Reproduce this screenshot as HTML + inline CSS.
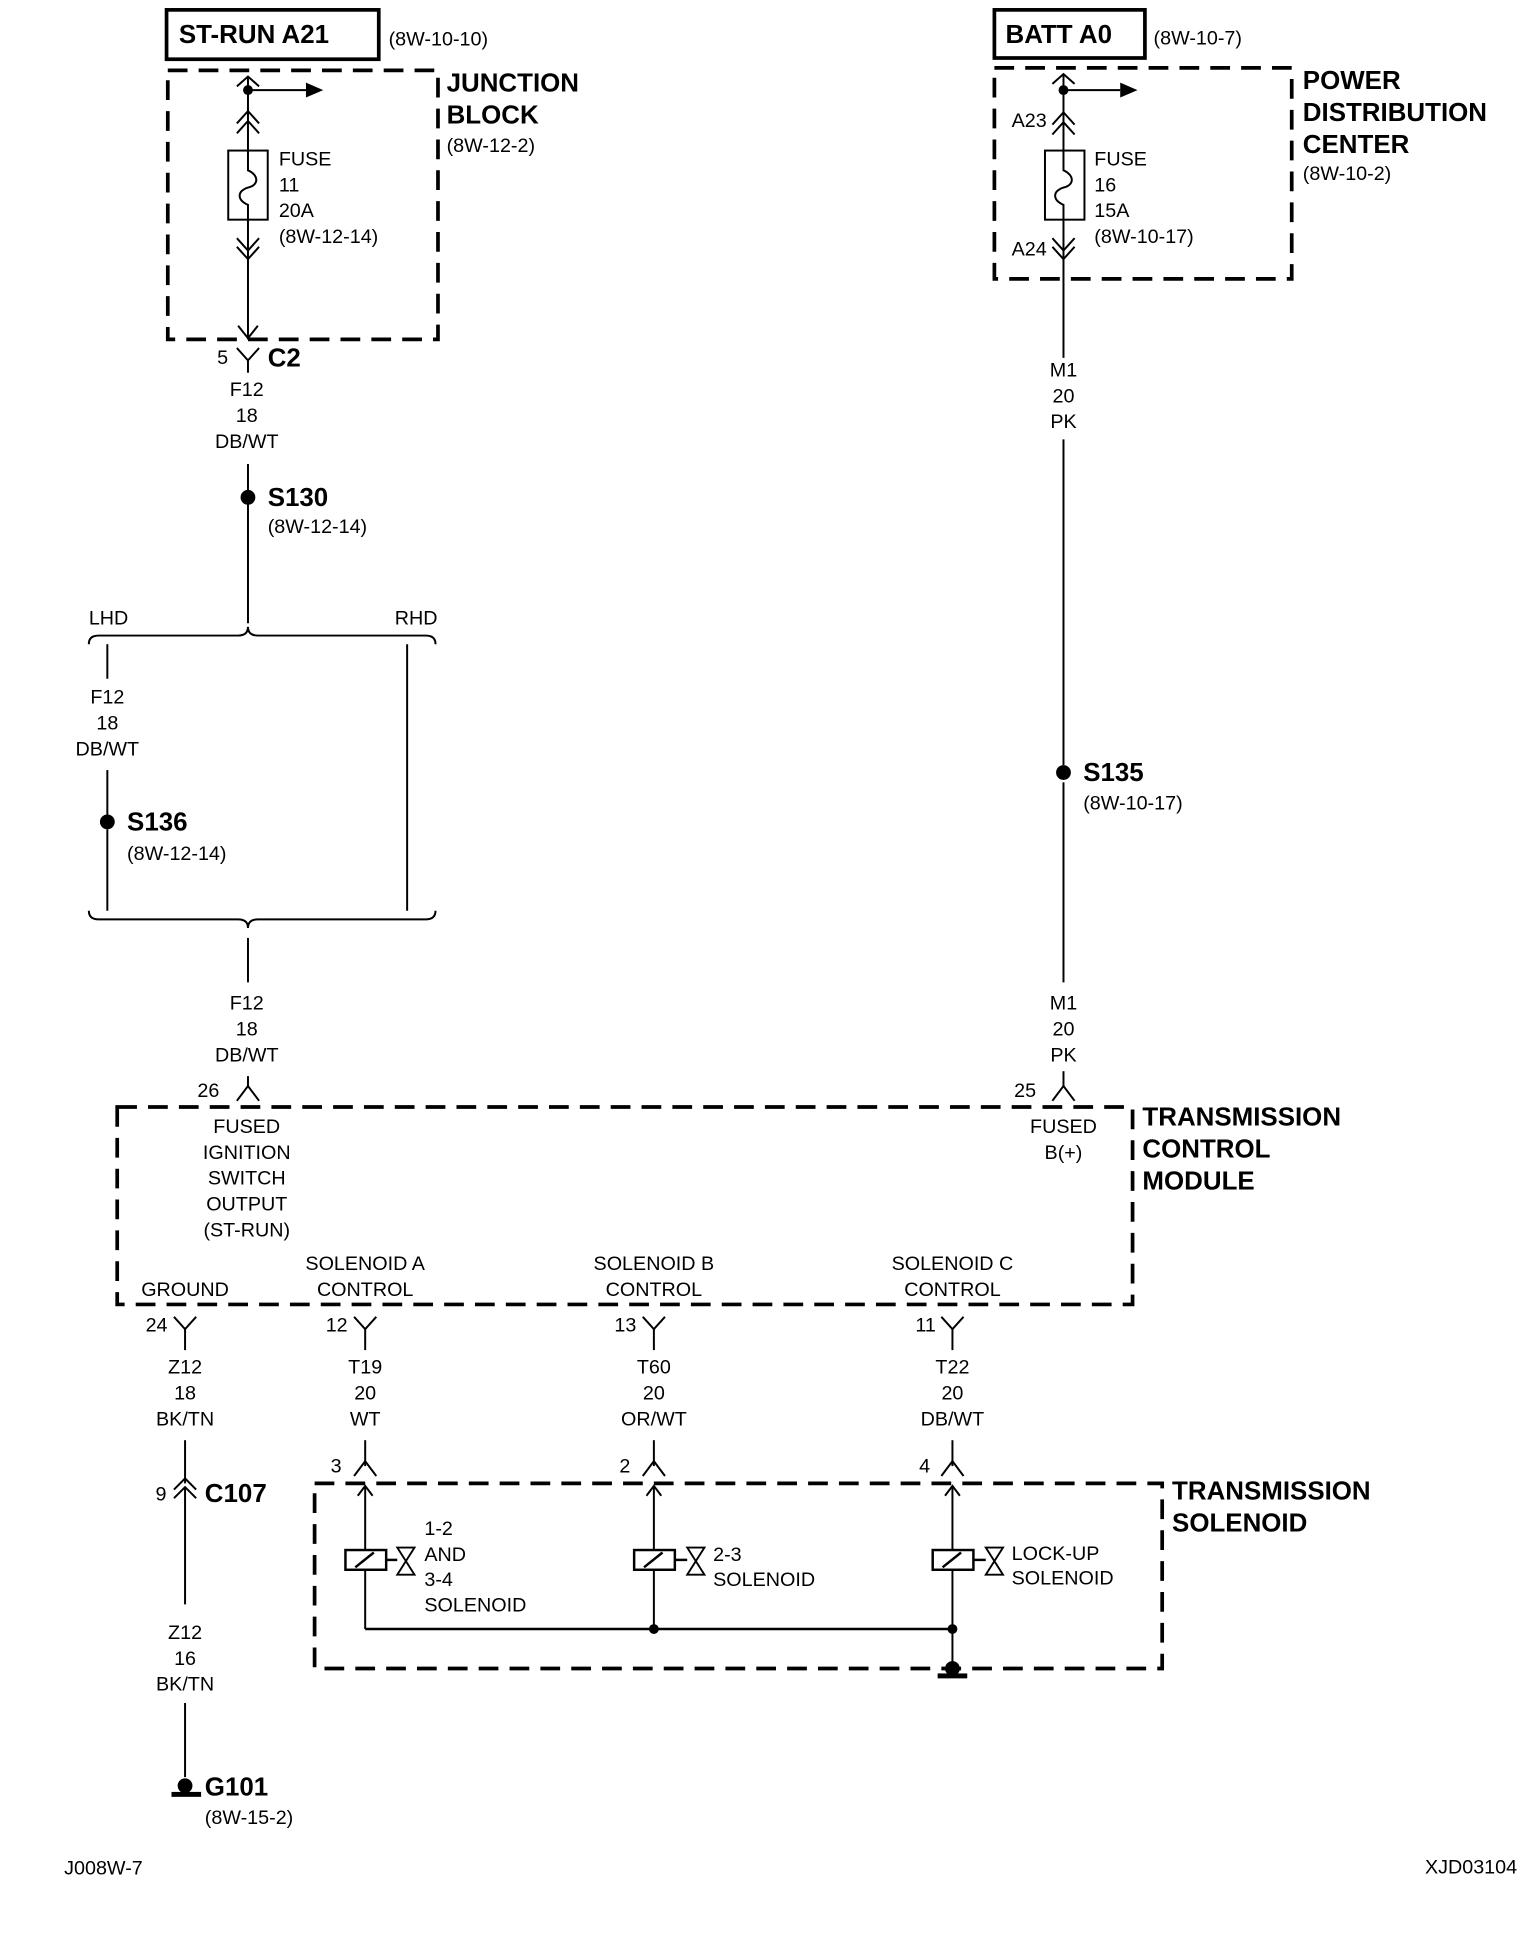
<!DOCTYPE html>
<html><head><style>
html,body{margin:0;padding:0;background:#fff;}
svg{display:block;}
text{font-family:"Liberation Sans Narrow","Liberation Sans",sans-serif;font-size:16px;fill:#000;}
.b{font-weight:bold;font-size:21px;}
.c{text-anchor:middle;}
</style></head><body>
<svg width="1536" height="1940" viewBox="0 0 1245 1572" preserveAspectRatio="none" xmlns="http://www.w3.org/2000/svg">
<g fill="none" stroke="#000" stroke-width="1.6">
<!-- boxes -->
<rect x="135" y="8" width="172" height="40" stroke-width="3"/>
<rect x="806" y="8" width="122" height="39" stroke-width="3"/>
<g stroke-width="3" stroke-dasharray="16,9">
<rect x="136" y="57" width="219" height="218"/>
<rect x="806" y="55" width="241" height="171"/>
<rect x="95" y="897" width="823" height="160"/>
<rect x="255" y="1202" width="687" height="150"/>
</g>
<!-- left fuse -->
<line x1="201" y1="62" x2="201" y2="275"/>
<line x1="201" y1="73" x2="248" y2="73"/>
<polyline points="192,70 201,62 210,70"/>
<polyline points="192,100 201,90 210,100"/><polyline points="192,108 201,98 210,108"/>
<rect x="185" y="122" width="32" height="56" fill="#fff"/>
<path d="M201,122 V138 C210,142 210,150 201,152 C192,155 192,162 201,166 V178"/>
<polyline points="192,193 201,203 210,193"/><polyline points="192,200 201,210 210,200"/>
<polyline points="193,264 201,274 209,264"/>
<!-- C2 -->
<polyline points="192,282 201,292 210,282"/><line x1="201" y1="292" x2="201" y2="302"/>
<line x1="201" y1="376" x2="201" y2="398"/>
<line x1="201" y1="408" x2="201" y2="505"/>
<path d="M72,522 Q72,515 80,515 L193,515 Q201,515 201,508 Q201,515 209,515 L345,515 Q353,515 353,522"/>
<line x1="87" y1="522" x2="87" y2="550"/><line x1="87" y1="624" x2="87" y2="660"/><line x1="87" y1="672" x2="87" y2="738"/>
<line x1="330" y1="522" x2="330" y2="738"/>
<path d="M72,738 Q72,745 80,745 L193,745 Q201,745 201,752 Q201,745 209,745 L345,745 Q353,745 353,738"/>
<line x1="201" y1="760" x2="201" y2="796"/>
<polyline points="192,892 201,880 210,892"/><line x1="201" y1="880" x2="201" y2="872"/>
<!-- right fuse -->
<line x1="862" y1="60" x2="862" y2="290"/>
<line x1="862" y1="73" x2="908" y2="73"/>
<polyline points="853,68 862,60 871,68"/>
<polyline points="853,101 862,91 871,101"/><polyline points="853,109 862,99 871,109"/>
<rect x="847" y="122" width="32" height="56" fill="#fff"/>
<path d="M862,122 V138 C871,142 871,150 862,152 C853,155 853,162 862,166 V178"/>
<polyline points="853,193 862,203 871,193"/><polyline points="853,200 862,210 871,200"/>
<line x1="862" y1="356" x2="862" y2="620"/>
<line x1="862" y1="634" x2="862" y2="796"/>
<line x1="862" y1="868" x2="862" y2="880"/>
<polyline points="853,892 862,880 871,892"/>
<!-- TCM output connectors -->
<g>
<polyline points="141,1067 150,1077 159,1067"/><line x1="150" y1="1077" x2="150" y2="1094"/>
<polyline points="287,1067 296,1077 305,1067"/><line x1="296" y1="1077" x2="296" y2="1094"/>
<polyline points="521,1067 530,1077 539,1067"/><line x1="530" y1="1077" x2="530" y2="1094"/>
<polyline points="763,1067 772,1077 781,1067"/><line x1="772" y1="1077" x2="772" y2="1094"/>
</g>
<line x1="150" y1="1167" x2="150" y2="1202"/>
<polyline points="141,1207 150,1198 159,1207"/><polyline points="141,1214 150,1205 159,1214"/>
<line x1="150" y1="1205" x2="150" y2="1300"/>
<line x1="150" y1="1380" x2="150" y2="1440"/>
<!-- solenoid feeds -->
<g>
<line x1="296" y1="1167" x2="296" y2="1188"/><polyline points="287,1196 296,1184 305,1196"/>
<line x1="530" y1="1167" x2="530" y2="1188"/><polyline points="521,1196 530,1184 539,1196"/>
<line x1="772" y1="1167" x2="772" y2="1188"/><polyline points="763,1196 772,1184 781,1196"/>
<line x1="296" y1="1204" x2="296" y2="1320"/><polyline points="290,1212 296,1204 302,1212"/>
<line x1="530" y1="1204" x2="530" y2="1320"/><polyline points="524,1212 530,1204 536,1212"/>
<line x1="772" y1="1204" x2="772" y2="1355"/><polyline points="766,1212 772,1204 778,1212"/>
<line x1="296" y1="1320" x2="772" y2="1320" stroke-width="2"/>
</g>
<g stroke-width="2">
<rect x="280" y="1256" width="33" height="16" fill="#fff"/><line x1="288" y1="1270" x2="303" y2="1258"/>
<line x1="313" y1="1264" x2="322" y2="1264"/><path d="M322,1254 H336 L322,1276 H336 Z" stroke-width="1.5"/>
<rect x="514" y="1256" width="33" height="16" fill="#fff"/><line x1="522" y1="1270" x2="537" y2="1258"/>
<line x1="547" y1="1264" x2="557" y2="1264"/><path d="M557,1254 H571 L557,1276 H571 Z" stroke-width="1.5"/>
<rect x="756" y="1256" width="33" height="16" fill="#fff"/><line x1="764" y1="1270" x2="779" y2="1258"/>
<line x1="789" y1="1264" x2="799" y2="1264"/><path d="M799,1254 H813 L799,1276 H813 Z" stroke-width="1.5"/>
</g>
</g>
<!-- dots & grounds -->
<g fill="#000">
<circle cx="201" cy="73" r="4"/><polygon points="248,67 262,73 248,79"/>
<circle cx="862" cy="73" r="4"/><polygon points="908,67 922,73 908,79"/>
<circle cx="201" cy="403" r="6"/><circle cx="87" cy="666" r="6"/><circle cx="862" cy="626" r="6"/>
<circle cx="530" cy="1320" r="4"/><circle cx="772" cy="1320" r="4"/>
<circle cx="772" cy="1352" r="6"/><rect x="760" y="1356" width="24" height="4"/>
<circle cx="150" cy="1447" r="6"/><rect x="139" y="1452" width="24" height="4"/>
</g>
<!-- text -->
<text x="145" y="35" class="b">ST-RUN A21</text><text x="315" y="37">(8W-10-10)</text>
<text x="362" y="74" class="b">JUNCTION</text><text x="362" y="100" class="b">BLOCK</text><text x="362" y="123">(8W-12-2)</text>
<text x="226" y="134">FUSE</text><text x="226" y="155">11</text><text x="226" y="176">20A</text><text x="226" y="197">(8W-12-14)</text>
<text x="176" y="295">5</text><text x="217" y="297" class="b">C2</text>
<text x="200" y="321" class="c">F12</text><text x="200" y="342" class="c">18</text><text x="200" y="363" class="c">DB/WT</text>
<text x="217" y="410" class="b">S130</text><text x="217" y="432">(8W-12-14)</text>
<text x="72" y="506">LHD</text><text x="320" y="506">RHD</text>
<text x="87" y="570" class="c">F12</text><text x="87" y="591" class="c">18</text><text x="87" y="612" class="c">DB/WT</text>
<text x="103" y="673" class="b">S136</text><text x="103" y="697">(8W-12-14)</text>
<text x="200" y="818" class="c">F12</text><text x="200" y="839" class="c">18</text><text x="200" y="860" class="c">DB/WT</text>
<text x="160" y="889">26</text>
<text x="815" y="35" class="b">BATT A0</text><text x="935" y="36">(8W-10-7)</text>
<text x="1056" y="72" class="b">POWER</text><text x="1056" y="98" class="b">DISTRIBUTION</text><text x="1056" y="124" class="b">CENTER</text><text x="1056" y="146">(8W-10-2)</text>
<text x="820" y="103">A23</text><text x="820" y="207">A24</text>
<text x="887" y="134">FUSE</text><text x="887" y="155">16</text><text x="887" y="176">15A</text><text x="887" y="197">(8W-10-17)</text>
<text x="862" y="305" class="c">M1</text><text x="862" y="326" class="c">20</text><text x="862" y="347" class="c">PK</text>
<text x="878" y="633" class="b">S135</text><text x="878" y="656">(8W-10-17)</text>
<text x="862" y="818" class="c">M1</text><text x="862" y="839" class="c">20</text><text x="862" y="860" class="c">PK</text>
<text x="822" y="889">25</text>
<text x="926" y="912" class="b">TRANSMISSION</text><text x="926" y="938" class="b">CONTROL</text><text x="926" y="964" class="b">MODULE</text>
<text x="200" y="918" class="c">FUSED</text><text x="200" y="939" class="c">IGNITION</text><text x="200" y="960" class="c">SWITCH</text><text x="200" y="981" class="c">OUTPUT</text><text x="200" y="1002" class="c">(ST-RUN)</text>
<text x="862" y="918" class="c">FUSED</text><text x="862" y="939" class="c">B(+)</text>
<text x="150" y="1050" class="c">GROUND</text>
<text x="296" y="1029" class="c">SOLENOID A</text><text x="296" y="1050" class="c">CONTROL</text>
<text x="530" y="1029" class="c">SOLENOID B</text><text x="530" y="1050" class="c">CONTROL</text>
<text x="772" y="1029" class="c">SOLENOID C</text><text x="772" y="1050" class="c">CONTROL</text>
<text x="118" y="1079">24</text><text x="264" y="1079">12</text><text x="498" y="1079">13</text><text x="742" y="1079">11</text>
<text x="150" y="1113" class="c">Z12</text><text x="150" y="1134" class="c">18</text><text x="150" y="1155" class="c">BK/TN</text>
<text x="296" y="1113" class="c">T19</text><text x="296" y="1134" class="c">20</text><text x="296" y="1155" class="c">WT</text>
<text x="530" y="1113" class="c">T60</text><text x="530" y="1134" class="c">20</text><text x="530" y="1155" class="c">OR/WT</text>
<text x="772" y="1113" class="c">T22</text><text x="772" y="1134" class="c">20</text><text x="772" y="1155" class="c">DB/WT</text>
<text x="268" y="1193">3</text><text x="502" y="1193">2</text><text x="745" y="1193">4</text>
<text x="126" y="1216">9</text><text x="166" y="1217" class="b">C107</text>
<text x="950" y="1215" class="b">TRANSMISSION</text><text x="950" y="1241" class="b">SOLENOID</text>
<text x="344" y="1244">1-2</text><text x="344" y="1265">AND</text><text x="344" y="1285">3-4</text><text x="344" y="1306">SOLENOID</text>
<text x="578" y="1265">2-3</text><text x="578" y="1285">SOLENOID</text>
<text x="820" y="1264">LOCK-UP</text><text x="820" y="1284">SOLENOID</text>
<text x="150" y="1328" class="c">Z12</text><text x="150" y="1349" class="c">16</text><text x="150" y="1370" class="c">BK/TN</text>
<text x="166" y="1455" class="b">G101</text><text x="166" y="1478">(8W-15-2)</text>
<text x="52" y="1519">J008W-7</text><text x="1155" y="1518">XJD03104</text>
</svg>
</body></html>
